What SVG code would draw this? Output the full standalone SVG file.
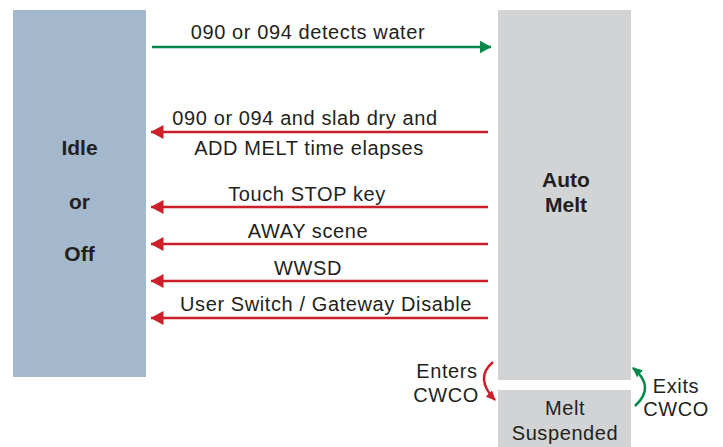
<svg xmlns="http://www.w3.org/2000/svg" width="723" height="447" viewBox="0 0 723 447">
<defs>
<style>
.t{font-family:"Liberation Sans",Arial,sans-serif;font-size:20px;letter-spacing:0.6px;fill:#231f20;text-anchor:middle}
.b{font-family:"Liberation Sans",Arial,sans-serif;font-size:21px;font-weight:bold;fill:#231f20;text-anchor:middle}
.red{stroke:#cc1f2a;stroke-width:2.5;fill:none}
.grn{stroke:#00894a;stroke-width:2.5;fill:none}
</style>
<marker id="hr" viewBox="0 0 13 14" refX="12.5" refY="7" markerWidth="13" markerHeight="14" orient="auto" markerUnits="userSpaceOnUse"><path d="M0,0 L13,7 L0,14 Z" fill="#cc1f2a"/></marker>
<marker id="hg" viewBox="0 0 12 13" refX="11.5" refY="6.5" markerWidth="12" markerHeight="13" orient="auto" markerUnits="userSpaceOnUse"><path d="M0,0 L12,6.5 L0,13 Z" fill="#00894a"/></marker>
<marker id="sr" viewBox="0 0 10 9" refX="9" refY="4.5" markerWidth="10" markerHeight="9" orient="auto" markerUnits="userSpaceOnUse"><path d="M0,0 L10,4.5 L0,9 Z" fill="#cc1f2a"/></marker>
<marker id="sg" viewBox="0 0 10 9" refX="9" refY="4.5" markerWidth="10" markerHeight="9" orient="auto" markerUnits="userSpaceOnUse"><path d="M0,0 L10,4.5 L0,9 Z" fill="#00894a"/></marker>
</defs>
<rect width="723" height="447" fill="#ffffff"/>
<g id="idle">
<rect x="13" y="10" width="133" height="367" fill="#a3b8cc"/>
<text class="b" x="79.5" y="155">Idle</text>
<text class="b" x="79.5" y="209">or</text>
<text class="b" x="79.5" y="261">Off</text>
</g>
<g id="automelt">
<rect x="498" y="10" width="133" height="370" fill="#d1d3d4"/>
<text class="b" x="566" y="187">Auto</text>
<text class="b" x="566" y="212">Melt</text>
</g>
<g id="suspended">
<rect x="498" y="390" width="133" height="57" fill="#d1d3d4"/>
<text class="t" x="565" y="415">Melt</text>
<text class="t" x="565" y="440">Suspended</text>
</g>
<g id="connectors">
<path class="grn" d="M152,47 H491" marker-end="url(#hg)"/>
<path class="red" d="M488,132 H151" marker-end="url(#hr)"/>
<path class="red" d="M488,207 H151" marker-end="url(#hr)"/>
<path class="red" d="M488,244 H151" marker-end="url(#hr)"/>
<path class="red" d="M488,281 H151" marker-end="url(#hr)"/>
<path class="red" d="M488,318 H151" marker-end="url(#hr)"/>
<path class="red" d="M493,362 Q474,378 495,400" marker-end="url(#sr)"/>
<path class="grn" d="M635,406 Q656,387 633,368" marker-end="url(#sg)"/>
</g>
<g id="labels">
<text class="t" x="308" y="39">090 or 094 detects water</text>
<text class="t" x="305" y="125">090 or 094 and slab dry and</text>
<text class="t" x="309" y="155">ADD MELT time elapses</text>
<text class="t" x="307" y="201">Touch STOP key</text>
<text class="t" x="308" y="238">AWAY scene</text>
<text class="t" x="308" y="275">WWSD</text>
<text class="t" x="326" y="311">User Switch / Gateway Disable</text>
<text class="t" x="447" y="378">Enters</text>
<text class="t" x="446" y="402">CWCO</text>
<text class="t" x="676" y="393">Exits</text>
<text class="t" x="676" y="416">CWCO</text>
</g>
</svg>
